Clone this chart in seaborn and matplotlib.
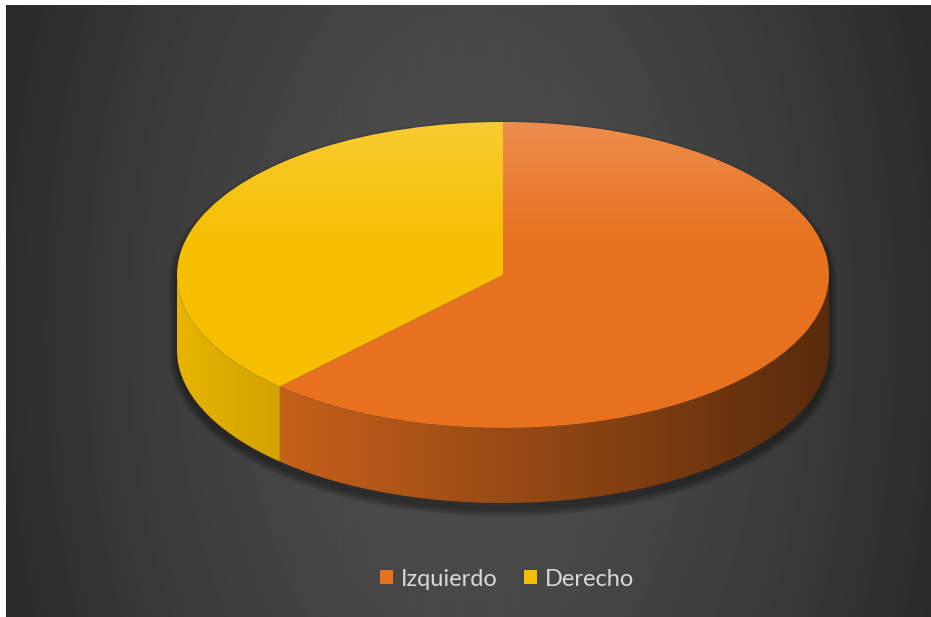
import numpy as np
import matplotlib
matplotlib.use("Agg")
import matplotlib.pyplot as plt
import seaborn as sns
from matplotlib.patches import Polygon
from matplotlib.colors import to_rgb

# ---- data ----
labels = ["Izquierdo", "Derecho"]
values = [62, 38]

# ---- styles ----
top_colors = ["#e8711f", "#f6bf00"]
text_color = "#d9d9d9"

sns.set_theme(style="dark")
plt.rcParams["font.family"] = ["Lato", "DejaVu Sans"]

W, H = 931, 617
fig = plt.figure(figsize=(W / 100, H / 100), dpi=100, facecolor="white")

# ---- background radial gradient (white margin left/top) ----
bg = fig.add_axes([6 / W, 0, 1 - 6 / W, 1 - 5 / H])
xs = np.linspace(6, W, 465)
ys = np.linspace(5, H, 306)
X, Y = np.meshgrid(xs, ys)
r = np.sqrt(((X - 470) / 520) ** 2 + ((Y - 330) / 900) ** 2)
v = (78 - 38 * np.clip(r, 0, 1) ** 1.5) / 255
bg.imshow(v, cmap="gray", vmin=0, vmax=1, aspect="auto", interpolation="bilinear")
bg.axis("off")

# ---- pie geometry (pixel layout) ----
cx, cy, rx, ry = 503, 275, 326, 153
depth = 75 / ry

ax = fig.add_axes([0, 0, 1, 1])
ax.patch.set_alpha(0)

wedges, _ = ax.pie(values, startangle=90, counterclock=False, colors=top_colors,
                   radius=1, center=(0, 0),
                   wedgeprops=dict(linewidth=0, zorder=5, antialiased=True))

# ---- shadow beneath the pie ----
ang_top = np.linspace(0, np.pi, 200)
ang_bot = np.linspace(np.pi, 2 * np.pi, 200)
for e in np.linspace(1, 8, 8):
    sx = 1 + e / rx
    sy = 1 + e / ry
    off = -6 / ry
    xt = np.cos(ang_top) * sx
    yt = np.sin(ang_top) * sy + off
    xb = np.cos(ang_bot) * sx
    yb = np.sin(ang_bot) * sy - depth + off
    pts = np.column_stack([np.r_[xt, xb], np.r_[yt, yb]])
    ax.add_patch(Polygon(pts, closed=True, facecolor="black", alpha=0.05,
                         linewidth=0, zorder=1))


def shade(x):
    return 0.85 - 0.281 * (x + 0.67)


# ---- side walls with horizontal shading (gradient clipped to wall) ----
gx = np.linspace(-1, 1, 400)
for w, col in zip(wedges, top_colors):
    base = np.array(to_rgb(col))
    t1, t2 = w.theta1, w.theta2
    for k in (-360, 0, 360):
        a0 = max(t1 + k, -180)
        a1 = min(t2 + k, 0)
        if a1 <= a0:
            continue
        ang = np.radians(np.linspace(a0, a1, 200))
        top = np.column_stack([np.cos(ang), np.sin(ang)])
        bot = np.column_stack([np.cos(ang[::-1]), np.sin(ang[::-1]) - depth])
        wall = Polygon(np.vstack([top, bot]), closed=True, facecolor="none",
                       edgecolor="none", zorder=3)
        ax.add_patch(wall)
        img = np.clip(base[None, :] * shade(gx)[:, None], 0, 1)[None, :, :]
        im = ax.imshow(img, extent=[-1, 1, -1 - depth, 0.2], origin="lower",
                       aspect="auto", zorder=3, interpolation="bilinear")
        im.set_clip_path(wall)

# ---- subtle highlight on top face ----
gy = np.linspace(-1, 1, 200)
alpha = np.clip((gy - 0.2) / 0.8, 0, 1) * 0.2
grad = np.zeros((200, 1, 4))
grad[..., :3] = 1.0
grad[:, 0, 3] = alpha
for w in wedges:
    im = ax.imshow(grad, extent=[-1, 1, -1, 1], origin="lower", aspect="auto",
                   zorder=6, interpolation="bilinear")
    im.set_clip_path(w)

ax.set_aspect("auto")
ax.set_xlim((0 - cx) / rx, (W - cx) / rx)
ax.set_ylim((cy - H) / ry, cy / ry)
ax.axis("off")

# ---- legend ----
leg = fig.legend(wedges, labels, loc="center", bbox_to_anchor=(507 / W, 1 - 579 / H),
                 ncol=2, frameon=False, fontsize=17, labelcolor=text_color,
                 handlelength=0.55, handleheight=0.55, handletextpad=0.35,
                 columnspacing=1.1, borderpad=0)

fig.savefig("out.png", dpi=100, facecolor="white")
